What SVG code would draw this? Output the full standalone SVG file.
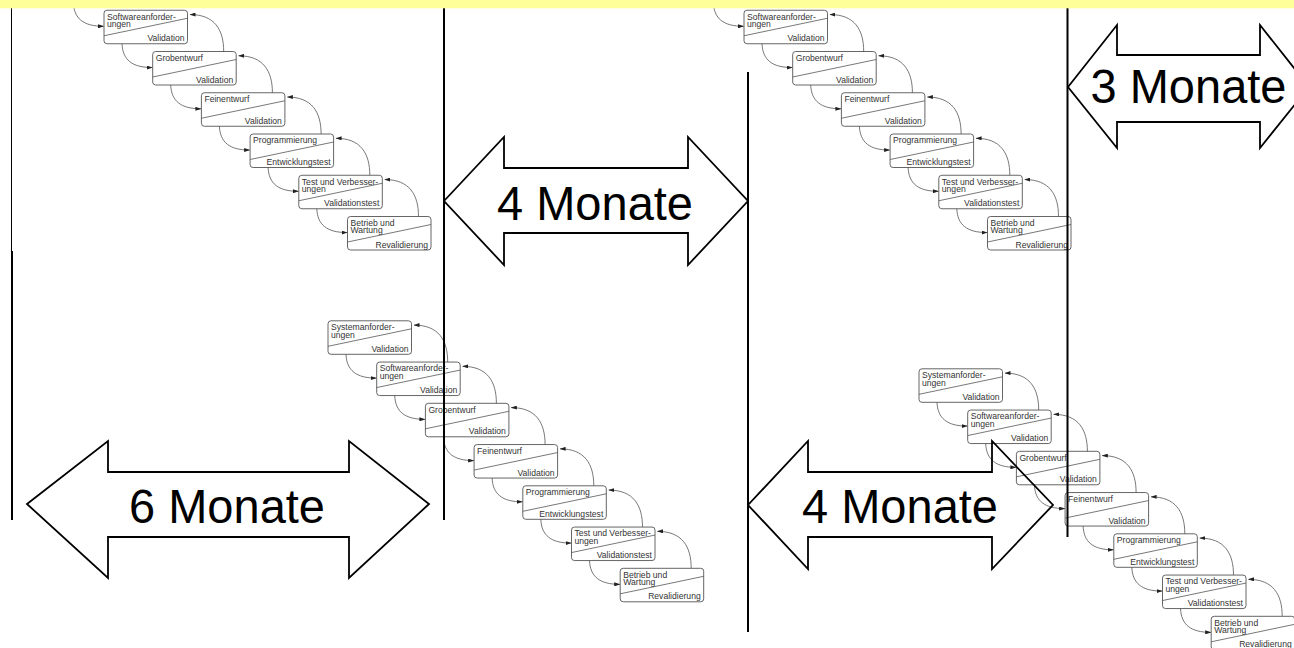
<svg xmlns="http://www.w3.org/2000/svg" width="1294" height="648" viewBox="0 0 1294 648">
<style>
.box{fill:#fff;stroke:#555;stroke-width:0.9}
.dg{stroke:#555;stroke-width:0.8}
.t{font-family:"Liberation Sans",Arial,sans-serif;font-size:8.6px;fill:#333}
.te{font-family:"Liberation Sans",Arial,sans-serif;font-size:8.6px;fill:#333;text-anchor:end}
.cn{fill:none;stroke:#555;stroke-width:0.8;marker-end:url(#ah)}
.vl{stroke:#000;stroke-width:2}
.big{fill:none;stroke:#000;stroke-width:1.8;stroke-linejoin:miter}
.bt{font-family:"Liberation Sans",Arial,sans-serif;font-size:49px;fill:#000;text-anchor:middle}
</style>
<defs>
<marker id="ah" viewBox="0 0 6 4" markerWidth="6" markerHeight="4" refX="5.5" refY="2" orient="auto" markerUnits="userSpaceOnUse"><path d="M0,0 L6,2 L0,4 z" fill="#222"/></marker>
<g id="n0"><rect class="box" x="0" y="0" width="83.5" height="33.5" rx="3"/><line class="dg" x1="0" y1="25.5" x2="83.5" y2="8"/><text class="t" x="3" y="9.3">Systemanforder-</text><text class="t" x="3" y="16.8">ungen</text><text class="te" x="80.5" y="31">Validation</text></g>
<g id="n1"><rect class="box" x="0" y="0" width="83.5" height="33.5" rx="3"/><line class="dg" x1="0" y1="25.5" x2="83.5" y2="8"/><text class="t" x="3" y="9.3">Softwareanforder-</text><text class="t" x="3" y="16.8">ungen</text><text class="te" x="80.5" y="31">Validation</text></g>
<g id="n2"><rect class="box" x="0" y="0" width="83.5" height="33.5" rx="3"/><line class="dg" x1="0" y1="25.5" x2="83.5" y2="8"/><text class="t" x="3" y="9.3">Grobentwurf</text><text class="te" x="80.5" y="31">Validation</text></g>
<g id="n3"><rect class="box" x="0" y="0" width="83.5" height="33.5" rx="3"/><line class="dg" x1="0" y1="25.5" x2="83.5" y2="8"/><text class="t" x="3" y="9.3">Feinentwurf</text><text class="te" x="80.5" y="31">Validation</text></g>
<g id="n4"><rect class="box" x="0" y="0" width="83.5" height="33.5" rx="3"/><line class="dg" x1="0" y1="25.5" x2="83.5" y2="8"/><text class="t" x="3" y="9.3">Programmierung</text><text class="te" x="80.5" y="31">Entwicklungstest</text></g>
<g id="n5"><rect class="box" x="0" y="0" width="83.5" height="33.5" rx="3"/><line class="dg" x1="0" y1="25.5" x2="83.5" y2="8"/><text class="t" x="3" y="9.3">Test und Verbesser-</text><text class="t" x="3" y="16.8">ungen</text><text class="te" x="80.5" y="31">Validationstest</text></g>
<g id="n6"><rect class="box" x="0" y="0" width="83.5" height="33.5" rx="3"/><line class="dg" x1="0" y1="25.5" x2="83.5" y2="8"/><text class="t" x="3" y="9.3">Betrieb und</text><text class="t" x="3" y="16.8">Wartung</text><text class="te" x="80.5" y="31">Revalidierung</text></g>
</defs>
<rect x="0" y="0" width="1294" height="648" fill="#fff"/>

<!-- top-left cascade -->
<g id="cascade-tl" transform="translate(55.3,-31)">
<g id="tl-nodes">
<g id="tl-software"><use href="#n1" x="48.7" y="41.25"/></g>
<g id="tl-grob"><use href="#n2" x="97.4" y="82.5"/></g>
<g id="tl-fein"><use href="#n3" x="146.1" y="123.75"/></g>
<g id="tl-prog"><use href="#n4" x="194.8" y="165"/></g>
<g id="tl-test"><use href="#n5" x="243.5" y="206.25"/></g>
<g id="tl-betrieb"><use href="#n6" x="292.2" y="247.5"/></g>
</g>
<g id="tl-connectors">
<path class="cn" d="M18,33.5 C18.7,49.5 28,57.3 48.2,57.3"/>
<path class="cn" d="M66.7,74.75 C67.4,90.75 76.7,98.55 96.9,98.55"/>
<path class="cn" d="M168.4,82.5 C168.4,60.75 159.4,45.55 134.7,45.55"/>
<path class="cn" d="M115.4,116 C116.1,132 125.4,139.8 145.6,139.8"/>
<path class="cn" d="M217.1,123.75 C217.1,102 208.1,86.8 183.4,86.8"/>
<path class="cn" d="M164.1,157.25 C164.8,173.25 174.1,181.05 194.3,181.05"/>
<path class="cn" d="M265.8,165 C265.8,143.25 256.8,128.05 232.1,128.05"/>
<path class="cn" d="M212.8,198.5 C213.5,214.5 222.8,222.3 243,222.3"/>
<path class="cn" d="M314.5,206.25 C314.5,184.5 305.5,169.3 280.8,169.3"/>
<path class="cn" d="M261.5,239.75 C262.2,255.75 271.5,263.55 291.7,263.55"/>
<path class="cn" d="M363.2,247.5 C363.2,225.75 354.2,210.55 329.5,210.55"/>
</g>
</g>

<!-- top-right cascade -->
<g id="cascade-tr" transform="translate(695.3,-31)">
<g id="tr-nodes">
<g id="tr-software"><use href="#n1" x="48.7" y="41.25"/></g>
<g id="tr-grob"><use href="#n2" x="97.4" y="82.5"/></g>
<g id="tr-fein"><use href="#n3" x="146.1" y="123.75"/></g>
<g id="tr-prog"><use href="#n4" x="194.8" y="165"/></g>
<g id="tr-test"><use href="#n5" x="243.5" y="206.25"/></g>
<g id="tr-betrieb"><use href="#n6" x="292.2" y="247.5"/></g>
</g>
<g id="tr-connectors">
<path class="cn" d="M18,33.5 C18.7,49.5 28,57.3 48.2,57.3"/>
<path class="cn" d="M66.7,74.75 C67.4,90.75 76.7,98.55 96.9,98.55"/>
<path class="cn" d="M168.4,82.5 C168.4,60.75 159.4,45.55 134.7,45.55"/>
<path class="cn" d="M115.4,116 C116.1,132 125.4,139.8 145.6,139.8"/>
<path class="cn" d="M217.1,123.75 C217.1,102 208.1,86.8 183.4,86.8"/>
<path class="cn" d="M164.1,157.25 C164.8,173.25 174.1,181.05 194.3,181.05"/>
<path class="cn" d="M265.8,165 C265.8,143.25 256.8,128.05 232.1,128.05"/>
<path class="cn" d="M212.8,198.5 C213.5,214.5 222.8,222.3 243,222.3"/>
<path class="cn" d="M314.5,206.25 C314.5,184.5 305.5,169.3 280.8,169.3"/>
<path class="cn" d="M261.5,239.75 C262.2,255.75 271.5,263.55 291.7,263.55"/>
<path class="cn" d="M363.2,247.5 C363.2,225.75 354.2,210.55 329.5,210.55"/>
</g>
</g>

<!-- bottom-left cascade -->
<g id="cascade-bl" transform="translate(328,320.8)">
<g id="bl-nodes">
<g id="bl-system"><use href="#n0" x="0" y="0"/></g>
<g id="bl-software"><use href="#n1" x="48.7" y="41.25"/></g>
<g id="bl-grob"><use href="#n2" x="97.4" y="82.5"/></g>
<g id="bl-fein"><use href="#n3" x="146.1" y="123.75"/></g>
<g id="bl-prog"><use href="#n4" x="194.8" y="165"/></g>
<g id="bl-test"><use href="#n5" x="243.5" y="206.25"/></g>
<g id="bl-betrieb"><use href="#n6" x="292.2" y="247.5"/></g>
</g>
<g id="bl-connectors">
<path class="cn" d="M18,33.5 C18.7,49.5 28,57.3 48.2,57.3"/>
<path class="cn" d="M119.7,41.25 C119.7,19.5 110.7,4.3 86,4.3"/>
<path class="cn" d="M66.7,74.75 C67.4,90.75 76.7,98.55 96.9,98.55"/>
<path class="cn" d="M168.4,82.5 C168.4,60.75 159.4,45.55 134.7,45.55"/>
<path class="cn" d="M115.4,116 C116.1,132 125.4,139.8 145.6,139.8"/>
<path class="cn" d="M217.1,123.75 C217.1,102 208.1,86.8 183.4,86.8"/>
<path class="cn" d="M164.1,157.25 C164.8,173.25 174.1,181.05 194.3,181.05"/>
<path class="cn" d="M265.8,165 C265.8,143.25 256.8,128.05 232.1,128.05"/>
<path class="cn" d="M212.8,198.5 C213.5,214.5 222.8,222.3 243,222.3"/>
<path class="cn" d="M314.5,206.25 C314.5,184.5 305.5,169.3 280.8,169.3"/>
<path class="cn" d="M261.5,239.75 C262.2,255.75 271.5,263.55 291.7,263.55"/>
<path class="cn" d="M363.2,247.5 C363.2,225.75 354.2,210.55 329.5,210.55"/>
</g>
</g>

<!-- bottom-right cascade -->
<g id="cascade-br" transform="translate(919,368.8)">
<g id="br-nodes">
<g id="br-system"><use href="#n0" x="0" y="0"/></g>
<g id="br-software"><use href="#n1" x="48.7" y="41.25"/></g>
<g id="br-grob"><use href="#n2" x="97.4" y="82.5"/></g>
<g id="br-fein"><use href="#n3" x="146.1" y="123.75"/></g>
<g id="br-prog"><use href="#n4" x="194.8" y="165"/></g>
<g id="br-test"><use href="#n5" x="243.5" y="206.25"/></g>
<g id="br-betrieb"><use href="#n6" x="292.2" y="247.5"/></g>
</g>
<g id="br-connectors">
<path class="cn" d="M18,33.5 C18.7,49.5 28,57.3 48.2,57.3"/>
<path class="cn" d="M119.7,41.25 C119.7,19.5 110.7,4.3 86,4.3"/>
<path class="cn" d="M66.7,74.75 C67.4,90.75 76.7,98.55 96.9,98.55"/>
<path class="cn" d="M168.4,82.5 C168.4,60.75 159.4,45.55 134.7,45.55"/>
<path class="cn" d="M115.4,116 C116.1,132 125.4,139.8 145.6,139.8"/>
<path class="cn" d="M217.1,123.75 C217.1,102 208.1,86.8 183.4,86.8"/>
<path class="cn" d="M164.1,157.25 C164.8,173.25 174.1,181.05 194.3,181.05"/>
<path class="cn" d="M265.8,165 C265.8,143.25 256.8,128.05 232.1,128.05"/>
<path class="cn" d="M212.8,198.5 C213.5,214.5 222.8,222.3 243,222.3"/>
<path class="cn" d="M314.5,206.25 C314.5,184.5 305.5,169.3 280.8,169.3"/>
<path class="cn" d="M261.5,239.75 C262.2,255.75 271.5,263.55 291.7,263.55"/>
<path class="cn" d="M363.2,247.5 C363.2,225.75 354.2,210.55 329.5,210.55"/>
</g>
</g>

<!-- vertical divider lines -->
<g id="dividers">
<line x1="11.5" y1="8" x2="11.5" y2="251" stroke="#000" stroke-width="1"/>
<line class="vl" x1="12" y1="251" x2="12" y2="520"/>
<line class="vl" x1="444" y1="8" x2="444" y2="520"/>
<line class="vl" x1="748" y1="72" x2="748" y2="632"/>
<line class="vl" x1="1067.5" y1="8" x2="1067.5" y2="537"/>
</g>

<!-- duration arrows -->
<g id="arrow-4m-top">
<path class="big" d="M444,201 L504,137 L504,168 L688,168 L688,137 L748,201 L688,265 L688,233 L504,233 L504,265 Z"/>
<text class="bt" x="595" y="220" textLength="196" lengthAdjust="spacingAndGlyphs">4 Monate</text>
</g>
<g id="arrow-6m">
<path class="big" d="M27,504 L108,441 L108,472 L349,472 L349,441 L429,504 L349,578 L349,537 L108,537 L108,578 Z"/>
<text class="bt" x="227" y="523" textLength="196" lengthAdjust="spacingAndGlyphs">6 Monate</text>
</g>
<g id="arrow-4m-bottom">
<path class="big" d="M748,505 L808,441 L808,472 L992,472 L992,441 L1053,505 L992,569 L992,537 L808,537 L808,569 Z"/>
<text class="bt" x="900" y="523" textLength="196" lengthAdjust="spacingAndGlyphs">4 Monate</text>
</g>
<g id="arrow-3m">
<path class="big" d="M1068,87 L1117,25 L1117,55 L1260,55 L1260,25 L1309,87 L1260,148 L1260,122 L1117,122 L1117,148 Z"/>
<text class="bt" x="1188.5" y="103" textLength="196" lengthAdjust="spacingAndGlyphs">3 Monate</text>
</g>

<rect id="top-band" x="0" y="0" width="1294" height="8.3" fill="#FFFF99"/>
</svg>
